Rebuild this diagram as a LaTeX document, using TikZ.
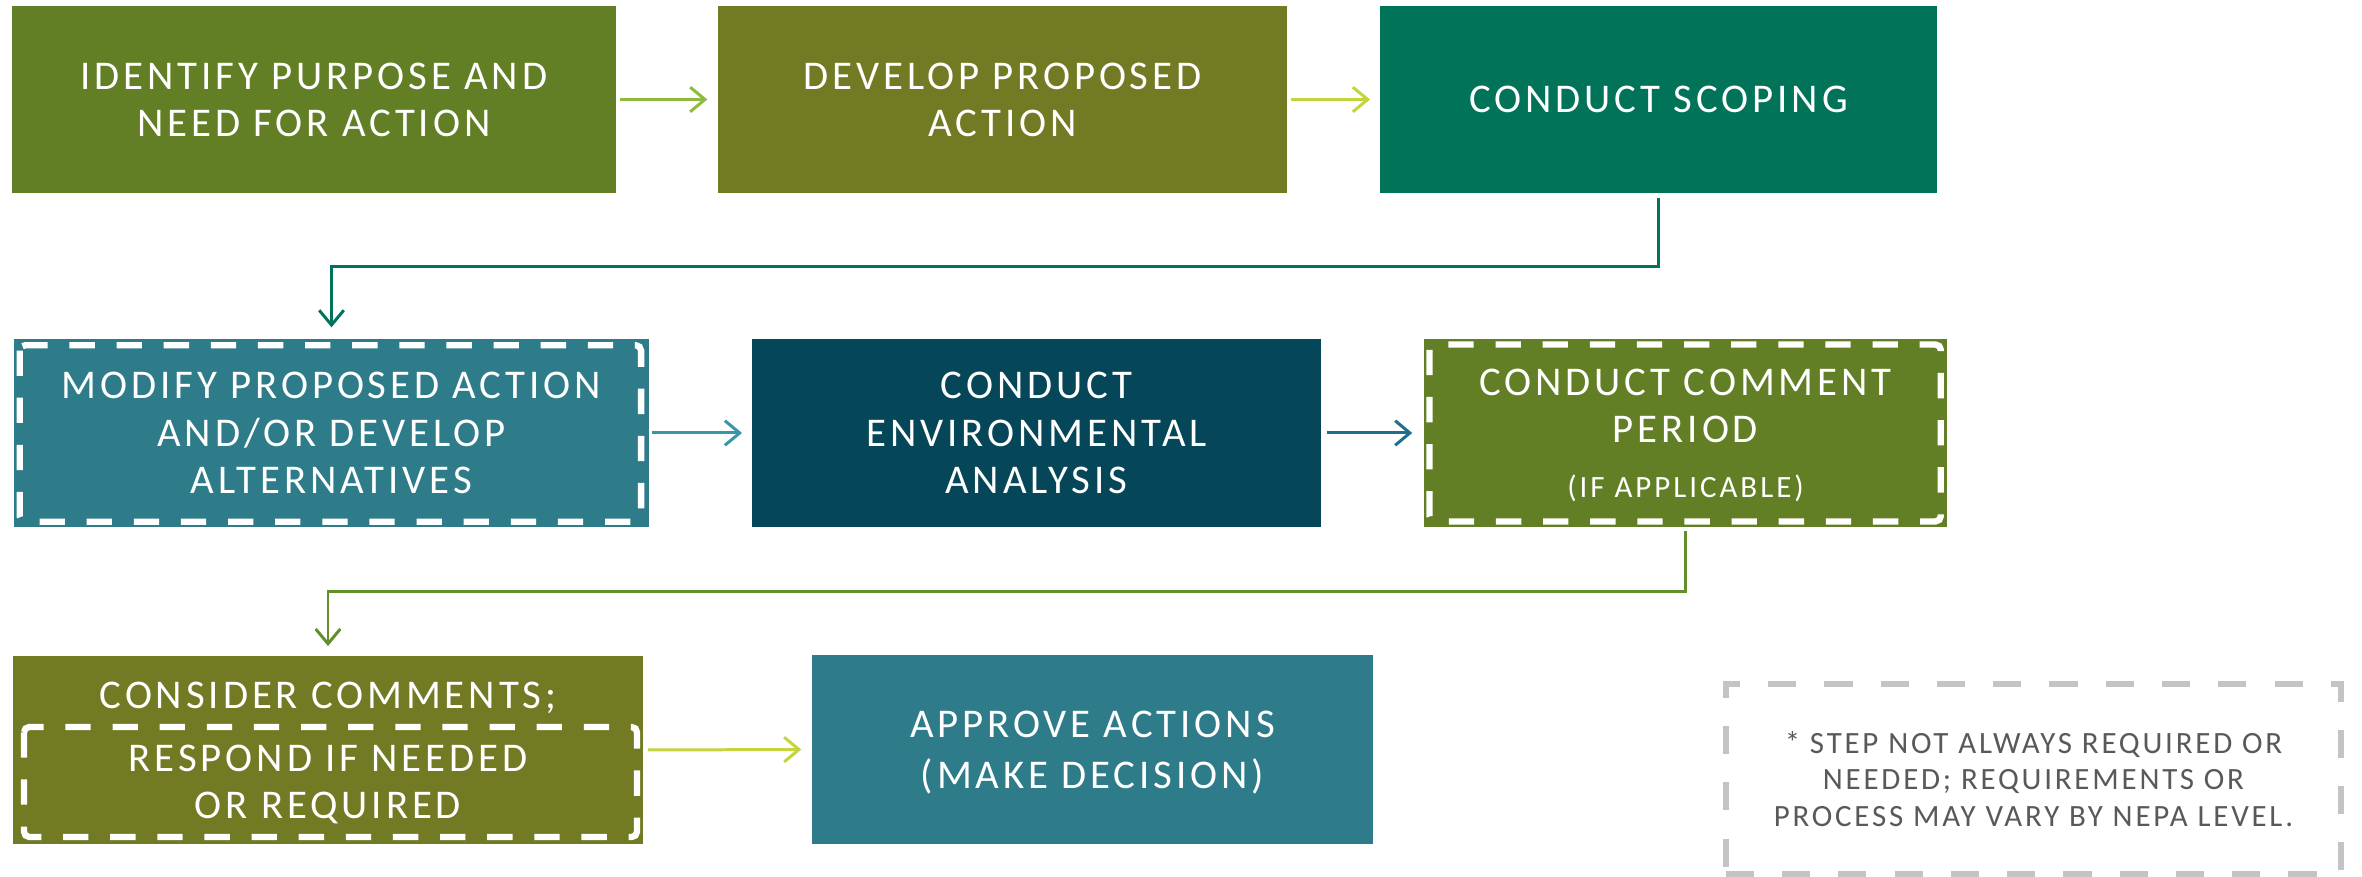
\documentclass[tikz,border=0pt]{standalone}
\usepackage{fontspec}
\setmainfont{Carlito}
\newfontfamily\boxfont[LetterSpace=9.6]{Carlito}
\newfontfamily\notefont[LetterSpace=9]{Carlito}
\usetikzlibrary{arrows.meta,calc}
\definecolor{cgreen}{HTML}{627F26}
\definecolor{colive}{HTML}{737A24}
\definecolor{cteal}{HTML}{017359}
\definecolor{cblue}{HTML}{2E7C89}
\definecolor{cdark}{HTML}{054658}
\definecolor{aLight}{HTML}{8DBB3E}
\definecolor{aYellow}{HTML}{C5D33D}
\definecolor{aTeal}{HTML}{3796A8}
\definecolor{aBlue}{HTML}{1F6E8E}
\definecolor{aScop}{HTML}{00735A}
\definecolor{aGreen}{HTML}{638E2B}
\definecolor{noteGray}{HTML}{C4C4C4}
\definecolor{noteText}{HTML}{595959}
\begin{document}
\begin{tikzpicture}[x=0.01cm,y=-0.01cm,
  box/.style={rectangle, inner sep=0pt, text=white, align=center,
    font=\boxfont\fontsize{11.6}{13.4}\selectfont},
  arr/.style={-{Straight Barb[length=4.2pt,width=7pt]}, line width=0.85pt},
  wdash/.style={draw=white, line width=1.8pt, dash pattern=on 7.2pt off 6.2pt, rounded corners=1.5pt},
  notebox/.style={rectangle, inner sep=0pt, draw=noteGray, line width=1.8pt,
    dash pattern=on 8pt off 8pt, text=noteText, align=center,
    font=\notefont\fontsize{8.8}{10.5}\selectfont}]
\useasboundingbox (0,0) rectangle (2362,877);

% row 1
\node[box, fill=cgreen, minimum width=6.04cm, minimum height=1.87cm] (b1) at (314,99.5) {IDENTIFY PURPOSE AND\\NEED FOR ACTION};
\node[box, fill=colive, minimum width=5.69cm, minimum height=1.87cm] (b2) at (1002.5,99.5) {DEVELOP PROPOSED\\ACTION};
\node[box, fill=cteal, minimum width=5.57cm, minimum height=1.87cm] (b3) at (1658.5,99.5) {CONDUCT SCOPING};

% row 2
\node[box, fill=cblue, minimum width=6.35cm, minimum height=1.88cm] (b4) at (331.5,433) {MODIFY PROPOSED ACTION\\AND/OR DEVELOP\\ALTERNATIVES};
\node[box, fill=cdark, minimum width=5.69cm, minimum height=1.88cm] (b5) at (1036.5,433) {CONDUCT\\ENVIRONMENTAL\\ANALYSIS};
\node[box, fill=cgreen, minimum width=5.23cm, minimum height=1.88cm, text depth=0pt] (b6) at (1685.5,433) {CONDUCT COMMENT\\PERIOD\\[2.2pt]{\fontsize{8.8}{10}\selectfont (IF APPLICABLE)}};

% row 3
\node[box, fill=colive, minimum width=6.30cm, minimum height=1.88cm, text depth=0pt] (b7) at (328,750) {CONSIDER COMMENTS;\\[4.5pt]RESPOND IF NEEDED\\OR REQUIRED};
\node[box, fill=cblue, minimum width=5.61cm, minimum height=1.89cm, text depth=0pt] (b8) at (1092.5,749.5) {APPROVE ACTIONS\\[1pt](MAKE DECISION)};

% note
\node[notebox, minimum width=6.15cm, minimum height=1.90cm, text depth=-2.5pt] (note) at (2033.5,779) {* STEP NOT ALWAYS REQUIRED OR\\NEEDED; REQUIREMENTS OR\\PROCESS MAY VARY BY NEPA LEVEL.};

% white dashed frames (optional steps)
\draw[wdash] ([shift={(1.9pt,-2pt)}]b4.north west) rectangle ([shift={(-2.5pt,1.7pt)}]b4.south east);
\draw[wdash] ([shift={(1.8pt,-1.8pt)}]b6.north west) rectangle ([shift={(-2pt,1.8pt)}]b6.south east);
\draw[wdash] (24,727) rectangle (637,837);

% horizontal arrows
\draw[arr, aLight, shorten <=0.85pt, shorten >=2.8pt] (b1.east) -- (b2.west);
\draw[arr, aYellow, shorten <=0.85pt, shorten >=2.6pt] (b2.east) -- (b3.west);
\draw[arr, aTeal, shorten <=0.6pt, shorten >=2.6pt] (b4.east) -- (b5.west);
\draw[arr, aBlue, shorten <=1.4pt, shorten >=3.1pt] (b5.east) -- (b6.west);
\draw[arr, aYellow, shorten <=1.1pt, shorten >=2.8pt] (b7.east) -- (b8.west);

% elbow connectors
\coordinate (k1) at (0,267);
\coordinate (k2) at (0,592);
\draw[arr, aScop, shorten <=1.1pt, shorten >=3.1pt] (b3.south) -- (b3.south |- k1) -| (b4.north);
\draw[arr, aGreen, shorten <=1pt, shorten >=2.6pt] (b6.south) -- (b6.south |- k2) -| (b7.north);
\end{tikzpicture}
\end{document}
